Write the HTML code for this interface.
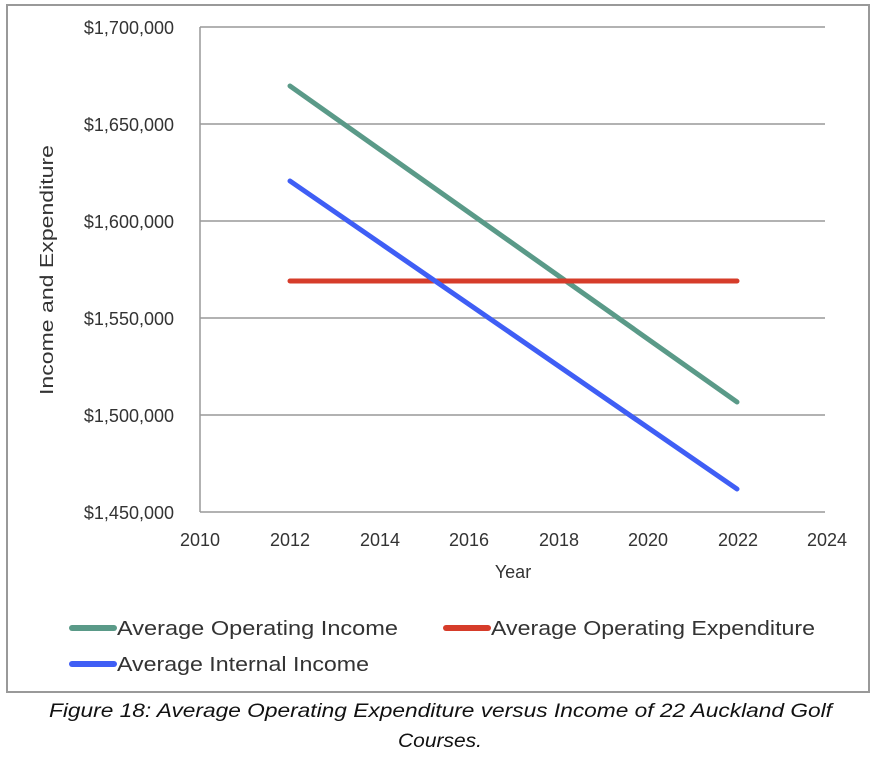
<!DOCTYPE html>
<html><head><style>
body{margin:0;background:#fff;}
svg text{font-family:"Liberation Sans",sans-serif;fill:#333;}
</style></head><body>
<svg width="877" height="756" xmlns="http://www.w3.org/2000/svg">
<rect x="7" y="5" width="862" height="687" fill="#fff" stroke="#999" stroke-width="2"/>
<g stroke="#999" stroke-width="1.5">
<line x1="200" y1="27" x2="825" y2="27"/>
<line x1="200" y1="124" x2="825" y2="124"/>
<line x1="200" y1="221" x2="825" y2="221"/>
<line x1="200" y1="318" x2="825" y2="318"/>
<line x1="200" y1="415" x2="825" y2="415"/>
<line x1="200" y1="512" x2="825" y2="512"/>
<line x1="200" y1="27" x2="200" y2="512"/>
</g>
<g font-size="18" text-anchor="end">
<text x="174" y="34">$1,700,000</text>
<text x="174" y="131">$1,650,000</text>
<text x="174" y="228">$1,600,000</text>
<text x="174" y="325">$1,550,000</text>
<text x="174" y="422">$1,500,000</text>
<text x="174" y="519">$1,450,000</text>
</g>
<g font-size="18" text-anchor="middle">
<text x="200" y="546">2010</text>
<text x="290" y="546">2012</text>
<text x="380" y="546">2014</text>
<text x="469" y="546">2016</text>
<text x="559" y="546">2018</text>
<text x="648" y="546">2020</text>
<text x="738" y="546">2022</text>
<text x="827" y="546">2024</text>
<text x="513" y="578">Year</text>
</g>
<text font-size="18" transform="translate(53,395) rotate(-90)" textLength="250" lengthAdjust="spacingAndGlyphs">Income and Expenditure</text>
<g stroke-width="5" stroke-linecap="round">
<line x1="290" y1="86" x2="737" y2="402" stroke="#5a9a88"/>
<line x1="290" y1="281" x2="737" y2="281" stroke="#d63c2a"/>
<line x1="290" y1="181" x2="737" y2="489" stroke="#3f5ef5"/>
<line x1="72" y1="628" x2="114" y2="628" stroke="#5a9a88" stroke-width="6"/>
<line x1="446" y1="628" x2="488" y2="628" stroke="#d63c2a" stroke-width="6"/>
<line x1="72" y1="664" x2="114" y2="664" stroke="#3f5ef5" stroke-width="6"/>
</g>
<g font-size="20">
<text x="117" y="635" textLength="281" lengthAdjust="spacingAndGlyphs">Average Operating Income</text>
<text x="491" y="635" textLength="324" lengthAdjust="spacingAndGlyphs">Average Operating Expenditure</text>
<text x="117" y="671" textLength="252" lengthAdjust="spacingAndGlyphs">Average Internal Income</text>
</g>
<g font-size="19" font-style="italic">
<text x="49" y="717" style="fill:#111" textLength="783" lengthAdjust="spacingAndGlyphs">Figure 18: Average Operating Expenditure versus Income of 22 Auckland Golf</text>
<text x="398" y="747" style="fill:#111" textLength="84" lengthAdjust="spacingAndGlyphs">Courses.</text>
</g>
</svg>
</body></html>
